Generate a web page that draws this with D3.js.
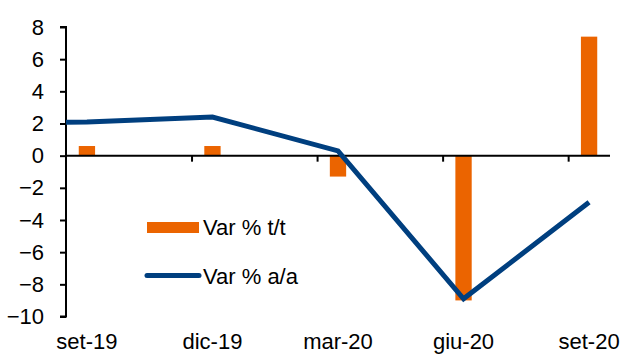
<!DOCTYPE html>
<html>
<head>
<meta charset="utf-8">
<script src="https://cdn.jsdelivr.net/npm/d3@7"></script>
<style>
  html, body { margin: 0; padding: 0; background: #fff; }
  svg { display: block; font-family: "Liberation Sans", Arial, sans-serif; }
</style>
</head>
<body>
<svg id="chart" width="624" height="355"></svg>
<script>
// Quarterly labels shown on the axis (month index from set-19)
const quarters = ["set-19", "dic-19", "mar-20", "giu-20", "set-20"];
const quarterMonths = [0, 3, 6, 9, 12];

// Quarter-on-quarter change (bars)
const varTT = [0.6, 0.6, -1.3, -9.0, 7.4];

// Year-on-year change (line); the first value is the prior quarter (giu-19),
// which runs in from the left edge and is clipped by the plot area
const lineMonths = [-3, 0, 3, 6, 9, 12];
const varAA = [2.0, 2.1, 2.4, 0.3, -8.9, -2.9];

const yTicks = [8, 6, 4, 2, 0, -2, -4, -6, -8, -10];
const legendLabels = ["Var % t/t", "Var % a/a"];

const orange = "#eb6400";
const navy = "#003f7f";

const svg = d3.select("#chart");
const plot = { left: 66, right: 610, top: 27, bottom: 316.5 };

// Monthly date axis: 13 months, set-19 .. set-20
const x = d3.scaleLinear().domain([0, 13]).range([plot.left, plot.right]);
const monthW = x(1) - x(0);
const y = d3.scaleLinear().domain([-10, 8]).range([plot.bottom, plot.top]);

svg.append("defs").append("clipPath").attr("id", "plotClip")
  .append("rect")
  .attr("x", plot.left).attr("y", plot.top - 10)
  .attr("width", plot.right - plot.left).attr("height", plot.bottom - plot.top + 20);

// Bars
const barW = monthW * 0.39;
svg.append("g").selectAll("rect")
  .data(varTT)
  .join("rect")
  .attr("x", (d, i) => x(quarterMonths[i] + 0.5) - barW / 2)
  .attr("width", barW)
  .attr("y", d => Math.min(y(d), y(0)))
  .attr("height", d => Math.abs(y(d) - y(0)))
  .attr("fill", orange);

// Y axis
const yAxis = d3.axisLeft(y).tickValues(yTicks).tickSize(6).tickPadding(16).tickFormat(d3.format("d"));
const gy = svg.append("g").attr("transform", `translate(${plot.left},0)`).call(yAxis);
gy.select(".domain").attr("stroke", "#000").attr("stroke-width", 2).attr("d", `M-6,${y(8)}H0V${y(-10)}H-6`);
gy.selectAll(".tick line").attr("stroke", "#000").attr("stroke-width", 2);
gy.selectAll(".tick text").attr("font-size", 22).attr("fill", "#000")
  .attr("font-family", "Liberation Sans, Arial, sans-serif");

// Zero line with quarter tick marks
const xAxis = d3.axisBottom(x).tickValues([3, 6, 9, 12]).tickSize(6).tickFormat("");
const gx = svg.append("g").attr("transform", `translate(0,${y(0)})`).call(xAxis);
gx.select(".domain").attr("stroke", "#000").attr("stroke-width", 2).attr("d", `M${plot.left},0H${plot.right}`);
gx.selectAll(".tick line").attr("stroke", "#000").attr("stroke-width", 2);

// Category labels under the plot, centred on each quarter's month
svg.append("g").selectAll("text")
  .data(quarters)
  .join("text")
  .attr("x", (d, i) => x(quarterMonths[i] + 0.5))
  .attr("y", 349)
  .attr("text-anchor", "middle")
  .attr("font-size", 22)
  .attr("fill", "#000")
  .text(d => d);

// Year-on-year line
const line = d3.line()
  .x((d, i) => x(lineMonths[i] + 0.5))
  .y(d => y(d));
svg.append("path")
  .datum(varAA)
  .attr("clip-path", "url(#plotClip)")
  .attr("d", line)
  .attr("fill", "none")
  .attr("stroke", navy)
  .attr("stroke-width", 5)
  .attr("stroke-linejoin", "miter");

// Legend
const lg = svg.append("g");
lg.append("rect").attr("x", 147).attr("y", 222).attr("width", 52).attr("height", 11).attr("fill", orange);
lg.append("line").attr("x1", 147).attr("x2", 199).attr("y1", 275.5).attr("y2", 275.5)
  .attr("stroke", navy).attr("stroke-width", 5).attr("stroke-linecap", "round");
lg.selectAll("text")
  .data(legendLabels)
  .join("text")
  .attr("x", 203)
  .attr("y", (d, i) => i === 0 ? 235 : 284)
  .attr("font-size", 22)
  .attr("fill", "#000")
  .text(d => d);
</script>
</body>
</html>
